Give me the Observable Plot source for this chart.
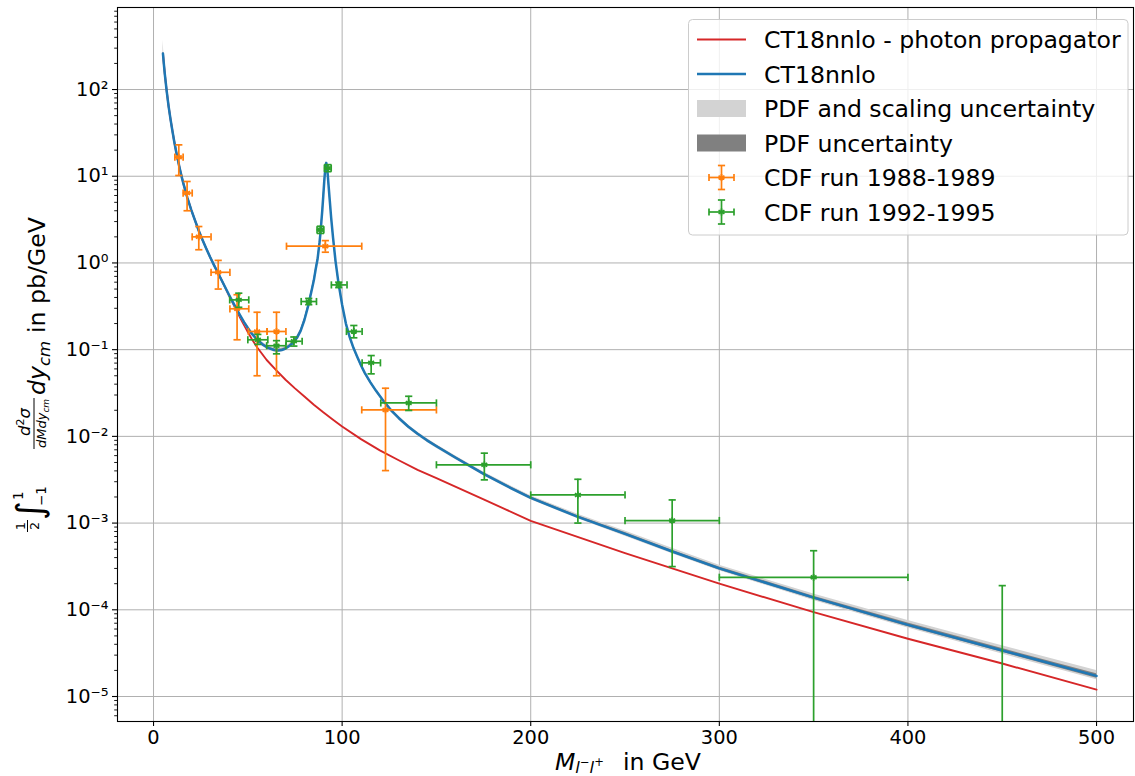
<!DOCTYPE html>
<html><head><meta charset="utf-8">
<script src="https://cdn.jsdelivr.net/npm/d3@7"></script>
<script src="https://cdn.jsdelivr.net/npm/@observablehq/plot@0.6"></script>
<style>html,body{margin:0;padding:0;background:#fff}svg{display:block}</style>
</head><body><div id="chart"></div>
<script>
// ---------- data ----------
// CT18nnlo (full Drell-Yan) curve
const mGrid = [5, 5.5, 6, 7, 8, 9, 10, 11, 12, 13,
  14, 15, 16, 18, 20, 22, 24, 26, 28, 30,
  32, 34, 36, 38, 40, 42, 44, 46, 48, 50,
  52, 55, 58, 61, 64, 66, 68, 70, 72, 74,
  76, 78, 80, 82, 84, 85, 86, 87, 88, 88.5,
  89, 89.5, 90, 90.5, 91, 91.3, 91.6, 91.9, 92.2, 92.5,
  92.8, 93.4, 94.2, 95.2, 96.5, 98, 100, 102, 104, 106,
  108, 110, 112, 115, 118, 122, 126, 130, 135, 140,
  145, 150, 160, 175, 190, 200, 225, 250, 275, 300,
  350, 400, 450, 500];
const ct18 = [260, 195, 150, 95, 64, 45.5, 33.5, 25, 19.2, 15.1,
  12.0, 9.7, 8.0, 5.6, 4.1, 3.1, 2.35, 1.84, 1.46, 1.17,
  0.95, 0.78, 0.64, 0.525, 0.43, 0.355, 0.295, 0.247, 0.208, 0.178,
  0.154, 0.13, 0.114, 0.104, 0.099, 0.098, 0.099, 0.103, 0.11, 0.12,
  0.136, 0.165, 0.22, 0.32, 0.5, 0.63, 0.85, 1.12, 1.7, 2.2,
  3.0, 4.1, 5.9, 8.6, 11.8, 13.5, 14.2, 13.3, 11.5, 9.6,
  7.9, 5.4, 3.3, 1.95, 1.05, 0.6, 0.33, 0.2, 0.14, 0.105,
  0.083, 0.066, 0.054, 0.042, 0.0335, 0.0255, 0.02, 0.0163, 0.013, 0.0107,
  0.009, 0.0077, 0.0057, 0.0037, 0.0025, 0.00195, 0.00118, 0.00075, 0.00047, 0.0003,
  0.000138, 0.000067, 0.000034, 0.0000173];
// relative half-widths of the "PDF and scaling" band (up / down) and of the PDF band
const scaleUp = [0.42, 0.33, 0.26, 0.19, 0.15, 0.12, 0.10, 0.09, 0.08, 0.08,
  0.07, 0.07, 0.07, 0.07, 0.07, 0.07, 0.07, 0.07, 0.07, 0.07,
  0.06, 0.06, 0.06, 0.06, 0.06, 0.06, 0.06, 0.06, 0.06, 0.06,
  0.06, 0.06, 0.06, 0.06, 0.06, 0.06, 0.06, 0.06, 0.06, 0.06,
  0.05, 0.05, 0.05, 0.05, 0.05, 0.05, 0.05, 0.05, 0.05, 0.05,
  0.05, 0.05, 0.05, 0.05, 0.05, 0.05, 0.05, 0.05, 0.05, 0.05,
  0.05, 0.05, 0.05, 0.05, 0.05, 0.05, 0.05, 0.05, 0.05, 0.05,
  0.05, 0.05, 0.05, 0.05, 0.05, 0.05, 0.05, 0.05, 0.05, 0.05,
  0.05, 0.05, 0.05, 0.05, 0.06, 0.06, 0.07, 0.08, 0.09, 0.09,
  0.10, 0.12, 0.13, 0.15];
const scaleDown = [0.12, 0.10, 0.09, 0.08, 0.07, 0.06, 0.06, 0.05, 0.05, 0.05,
  0.05, 0.05, 0.05, 0.05, 0.05, 0.05, 0.05, 0.05, 0.05, 0.05,
  0.05, 0.05, 0.05, 0.05, 0.05, 0.05, 0.05, 0.05, 0.05, 0.05,
  0.05, 0.05, 0.05, 0.05, 0.05, 0.05, 0.05, 0.05, 0.05, 0.05,
  0.05, 0.05, 0.05, 0.05, 0.05, 0.05, 0.05, 0.05, 0.05, 0.05,
  0.05, 0.05, 0.05, 0.05, 0.05, 0.05, 0.05, 0.05, 0.05, 0.05,
  0.05, 0.05, 0.05, 0.05, 0.05, 0.05, 0.05, 0.05, 0.05, 0.05,
  0.05, 0.05, 0.05, 0.05, 0.05, 0.05, 0.05, 0.05, 0.05, 0.05,
  0.05, 0.05, 0.05, 0.05, 0.05, 0.05, 0.05, 0.06, 0.06, 0.06,
  0.07, 0.08, 0.09, 0.10];
const pdfUnc = [0.05, 0.05, 0.05, 0.04, 0.04, 0.03, 0.03, 0.03, 0.03, 0.03,
  0.03, 0.03, 0.03, 0.03, 0.03, 0.03, 0.03, 0.03, 0.03, 0.03,
  0.03, 0.03, 0.03, 0.03, 0.03, 0.03, 0.03, 0.03, 0.03, 0.03,
  0.03, 0.03, 0.03, 0.03, 0.03, 0.03, 0.03, 0.03, 0.03, 0.03,
  0.03, 0.03, 0.03, 0.03, 0.03, 0.03, 0.03, 0.03, 0.03, 0.03,
  0.03, 0.03, 0.03, 0.03, 0.03, 0.03, 0.03, 0.03, 0.03, 0.03,
  0.03, 0.03, 0.03, 0.03, 0.03, 0.03, 0.03, 0.03, 0.03, 0.03,
  0.03, 0.03, 0.03, 0.03, 0.03, 0.03, 0.03, 0.03, 0.03, 0.03,
  0.03, 0.03, 0.03, 0.03, 0.03, 0.03, 0.03, 0.035, 0.035, 0.04,
  0.04, 0.05, 0.05, 0.06];

// CT18nnlo photon-propagator-only curve
const photonM = [5, 5.5, 6, 7, 8, 9, 10, 11, 12, 13,
  14, 15, 16, 18, 20, 22, 24, 26, 28, 30,
  32, 34, 36, 38, 40, 42, 44, 46, 48, 50,
  52, 55, 60, 65, 70, 75, 80, 85, 90, 95,
  100, 110, 120, 130, 140, 150, 175, 200, 250, 300,
  350, 400, 450, 500];
const photonY = [260, 195, 150, 95, 64, 45.5, 33.5, 25, 19.2, 15.1,
  12.0, 9.7, 8.0, 5.6, 4.1, 3.1, 2.35, 1.84, 1.46, 1.17,
  0.95, 0.78, 0.64, 0.52, 0.42, 0.345, 0.282, 0.232, 0.192, 0.16,
  0.134, 0.106, 0.076, 0.058, 0.045, 0.0358, 0.0288, 0.0232, 0.019, 0.0157,
  0.013, 0.0093, 0.0069, 0.0053, 0.0041, 0.0033, 0.00188, 0.00106, 0.00045, 0.0002,
  0.000094, 0.0000464, 0.000024, 0.000012];

// CDF run 1988-1989
const cdf1M   = [13.4, 17.8, 24.0, 34.3, 44.3, 54.9, 65.2, 91.1, 123.0];
const cdf1Xlo = [11.3, 15.7, 20.5, 30.5, 40.5, 50.3, 60.2, 70.5, 110.4];
const cdf1Xhi = [15.7, 20.5, 30.5, 40.5, 50.5, 60.2, 70.2, 110.4, 150];
const cdf1Y   = [16.6, 6.4, 2.0, 0.78, 0.296, 0.162, 0.162, 1.56, 0.0202];
const cdf1Ylo = [10.2, 4.0, 1.42, 0.50, 0.13, 0.050, 0.050, 1.33, 0.00403];
const cdf1Yhi = [23, 8.7, 2.63, 1.07, 0.43, 0.27, 0.27, 1.81, 0.0359];

// CDF run 1992-1995
const cdf2M   = [45.2, 55.3, 65.2, 74.4, 82.3, 88.5, 92.4, 98.2, 106.2, 115.4, 135.3, 175.4, 225, 275, 350, 450];
const cdf2Xlo = [40.4, 50.0, 60.0, 70.3, 78.3, 86.7, 90.6, 94.3, 102.3, 110.6, 120.5, 150, 200, 250, 300, 400];
const cdf2Xhi = [50.5, 60.6, 70.2, 78.8, 86.4, 90.3, 94.2, 102.6, 110.6, 120.3, 150, 200, 250, 300, 400, 500];
const cdf2Y   = [0.375, 0.13, 0.111, 0.125, 0.359, 2.41, 12.4, 0.558, 0.162, 0.0705, 0.0243, 0.0047, 0.00211, 0.00107, 0.000237, 0.000001];
const cdf2Ylo = [0.308, 0.115, 0.0895, 0.11, 0.33, 2.19, 11.3, 0.52, 0.137, 0.0526, 0.0199, 0.00315, 0.001, 0.000315, 1e-7, 1e-7];
const cdf2Yhi = [0.448, 0.15, 0.127, 0.14, 0.39, 2.65, 13.6, 0.60, 0.19, 0.0855, 0.029, 0.0064, 0.0032, 0.00185, 0.00048, 0.00019];

// ticks
const xTicks = [0, 100, 200, 300, 400, 500];
const xTickLabels = ["0", "100", "200", "300", "400", "500"];
const yTicks = [1e-5, 1e-4, 1e-3, 1e-2, 1e-1, 1, 10, 100];
const yTickLabels = ["10\u207B\u2075", "10\u207B\u2074", "10\u207B\u00B3", "10\u207B\u00B2", "10\u207B\u00B9", "10\u2070", "10\u00B9", "10\u00B2"];
const legendLabels = ["CT18nnlo - photon propagator", "CT18nnlo", "PDF and scaling uncertainty", "PDF uncertainty", "CDF run 1988-1989", "CDF run 1992-1995"];

// colours
const RED = "#d62728", BLUE = "#1f77b4", ORANGE = "#ff7f0e", GREEN = "#2ca02c";
const LIGHT = "#d3d3d3", DARK = "#808080", GRID = "#b0b0b0";

// ---------- tables for the library ----------
const curve = mGrid.map((m, i) => ({
  m, y: ct18[i],
  lo: ct18[i] * (1 - scaleDown[i]), hi: ct18[i] * (1 + scaleUp[i]),
  plo: ct18[i] * (1 - pdfUnc[i]), phi: ct18[i] * (1 + pdfUnc[i])
}));
const photon = photonM.map((m, i) => ({m, y: photonY[i]}));
const set1 = cdf1M.map((m, i) => ({m, y: cdf1Y[i], xlo: cdf1Xlo[i], xhi: cdf1Xhi[i], ylo: cdf1Ylo[i], yhi: cdf1Yhi[i]}));
const set2 = cdf2M.map((m, i) => ({m, y: cdf2Y[i], xlo: cdf2Xlo[i], xhi: cdf2Xhi[i], ylo: cdf2Ylo[i], yhi: cdf2Yhi[i]}));

const minorY = [];
for (let e = -6; e <= 2; e++) for (let k = 2; k <= 9; k++) {
  const v = k * Math.pow(10, e);
  if (v > 5.15e-6 && v < 883) minorY.push(v);
}

const capV = {draw(ctx, size) { const r = Math.sqrt(size / Math.PI); ctx.moveTo(0, -r); ctx.lineTo(0, r); }};
const capH = {draw(ctx, size) { const r = Math.sqrt(size / Math.PI); ctx.moveTo(-r, 0); ctx.lineTo(r, 0); }};

function errorMarks(rows, color) {
  const o = {stroke: color, strokeWidth: 1.7, clip: true};
  const c = {fill: "none", stroke: color, strokeWidth: 1.7, r: 3.6, clip: true};
  return [
    Plot.ruleY(rows, {y: "y", x1: "xlo", x2: "xhi", ...o}),
    Plot.ruleX(rows, {x: "m", y1: "ylo", y2: "yhi", ...o}),
    Plot.dot(rows, {x: "xlo", y: "y", symbol: capV, ...c}),
    Plot.dot(rows, {x: "xhi", y: "y", symbol: capV, ...c}),
    Plot.dot(rows, {x: "m", y: "ylo", symbol: capH, ...c}),
    Plot.dot(rows, {x: "m", y: "yhi", symbol: capH, ...c}),
    Plot.dot(rows, {x: "m", y: "y", symbol: "asterisk", r: 3.2, stroke: color, strokeWidth: 1.8, clip: true})
  ];
}

const chart = Plot.plot({
  width: 1135, height: 776,
  marginLeft: 117, marginRight: 2, marginTop: 7, marginBottom: 55,
  style: {fontFamily: "'DejaVu Sans'", fontSize: "19.4px", background: "white", color: "black", overflow: "visible"},
  x: {domain: [-19.1, 519.6]},
  y: {type: "log", domain: [5.15e-6, 883]},
  marks: [
    Plot.gridX(xTicks, {stroke: GRID, strokeOpacity: 1, strokeWidth: 1}),
    Plot.gridY(yTicks, {stroke: GRID, strokeOpacity: 1, strokeWidth: 1}),
    Plot.line(photon, {x: "m", y: "y", stroke: RED, strokeWidth: 1.9, clip: true}),
    Plot.areaY(curve, {x: "m", y1: "lo", y2: "hi", fill: LIGHT, clip: true}),
    Plot.areaY(curve, {x: "m", y1: "plo", y2: "phi", fill: DARK, clip: true}),
    Plot.line(curve, {x: "m", y: "y", stroke: BLUE, strokeWidth: 2.5, clip: true}),
    ...errorMarks(set1, ORANGE),
    ...errorMarks(set2, GREEN),
    Plot.frame({stroke: "black", strokeWidth: 1.1}),
    Plot.axisX(xTicks, {tickSize: 5, tickPadding: 4, strokeWidth: 1.1, label: null,
      tickFormat: d => xTickLabels[xTicks.indexOf(d)]}),
    Plot.axisY(yTicks, {tickSize: 5, tickPadding: 4, strokeWidth: 1.1, label: null,
      tickFormat: d => yTickLabels[yTicks.indexOf(d)]}),
    Plot.axisY(minorY, {tickSize: 2.8, strokeWidth: 0.9, label: null, tickFormat: () => ""})
  ]
});
document.getElementById("chart").appendChild(chart);

// ---------- labels and legend ----------
const svg = d3.select(chart);
const FONT = "'DejaVu Sans'";

// x label
const xl = svg.append("text").attr("x", 555).attr("y", 770).attr("text-anchor", "start")
  .attr("font-family", FONT).attr("font-size", 23.6).attr("fill", "black");
xl.append("tspan").attr("font-style", "italic").text("M");
xl.append("tspan").attr("font-style", "italic").attr("font-size", 16.5).attr("dy", 3).text("l");
xl.append("tspan").attr("font-size", 11.5).attr("dy", -7).text("\u2212");
xl.append("tspan").attr("font-style", "italic").attr("font-size", 16.5).attr("dy", 7).text("l");
xl.append("tspan").attr("font-size", 11.5).attr("dy", -7).text("+");
xl.append("tspan").attr("dy", 4).attr("x", 623).text("in GeV");

// y label (rotated)
const yl = svg.append("g").attr("transform", "translate(45,537) rotate(-90)")
  .attr("font-family", FONT).attr("fill", "black").attr("text-anchor", "start");
yl.append("text").attr("x", 11).attr("y", -20).attr("font-size", 12.5).attr("text-anchor", "middle").text("1");
yl.append("line").attr("x1", 5).attr("x2", 17).attr("y1", -17.5).attr("y2", -17.5).attr("stroke", "black").attr("stroke-width", 1);
yl.append("text").attr("x", 11).attr("y", -6.5).attr("font-size", 12.5).attr("text-anchor", "middle").text("2");
yl.append("text").attr("x", 17).attr("y", -3).attr("font-size", 36).text("\u222B");
yl.append("text").attr("x", 37).attr("y", -22).attr("font-size", 13.5).text("1");
yl.append("text").attr("x", 31).attr("y", 1).attr("font-size", 13.5).text("\u22121");
const num = yl.append("text").attr("x", 101).attr("y", -15).attr("font-size", 16.5).attr("font-style", "italic");
num.append("tspan").text("d");
num.append("tspan").attr("font-size", 11).attr("font-style", "normal").attr("dy", -6).text("2");
num.append("tspan").attr("dy", 6).text("\u03C3");
yl.append("line").attr("x1", 88).attr("x2", 139).attr("y1", -11).attr("y2", -11).attr("stroke", "black").attr("stroke-width", 1);
const den = yl.append("text").attr("x", 89).attr("y", 1).attr("font-size", 13).attr("font-style", "italic");
den.append("tspan").text("dMdy");
den.append("tspan").attr("font-size", 9).attr("dy", 3).text("cm");
const dy = yl.append("text").attr("x", 142).attr("y", 0).attr("font-size", 23.6).attr("font-style", "italic");
dy.append("tspan").text("dy");
dy.append("tspan").attr("font-size", 16.5).attr("dy", 5).text("cm");
yl.append("text").attr("x", 204).attr("y", 0).attr("font-size", 23.6).text("in pb/GeV");

// legend
const lg = svg.append("g").attr("font-family", FONT).attr("text-anchor", "start");
lg.append("rect").attr("x", 688.5).attr("y", 19.5).attr("width", 439.5).attr("height", 215.5)
  .attr("rx", 4).attr("fill", "white").attr("fill-opacity", 0.8).attr("stroke", "#cccccc").attr("stroke-width", 1);
const rowY = [39.5, 74, 108.5, 143, 177.5, 212];
legendLabels.forEach((t, i) => {
  lg.append("text").attr("x", 764).attr("y", rowY[i] + 8.8).attr("font-size", 23.6).attr("fill", "black").text(t);
});
lg.append("line").attr("x1", 697).attr("x2", 746).attr("y1", rowY[0]).attr("y2", rowY[0]).attr("stroke", RED).attr("stroke-width", 1.9);
lg.append("line").attr("x1", 697).attr("x2", 746).attr("y1", rowY[1]).attr("y2", rowY[1]).attr("stroke", BLUE).attr("stroke-width", 2.5);
lg.append("rect").attr("x", 697).attr("y", rowY[2] - 8.5).attr("width", 49).attr("height", 17).attr("fill", LIGHT);
lg.append("rect").attr("x", 697).attr("y", rowY[3] - 8.5).attr("width", 49).attr("height", 17).attr("fill", DARK);
[[rowY[4], ORANGE], [rowY[5], GREEN]].forEach(([cy, col]) => {
  const g = lg.append("g").attr("stroke", col).attr("stroke-width", 1.7).attr("fill", "none");
  g.append("line").attr("x1", 709).attr("x2", 734).attr("y1", cy).attr("y2", cy);
  g.append("line").attr("x1", 721.5).attr("x2", 721.5).attr("y1", cy - 12).attr("y2", cy + 12);
  g.append("line").attr("x1", 709).attr("x2", 709).attr("y1", cy - 3.6).attr("y2", cy + 3.6);
  g.append("line").attr("x1", 734).attr("x2", 734).attr("y1", cy - 3.6).attr("y2", cy + 3.6);
  g.append("line").attr("x1", 717.9).attr("x2", 725.1).attr("y1", cy - 12).attr("y2", cy - 12);
  g.append("line").attr("x1", 717.9).attr("x2", 725.1).attr("y1", cy + 12).attr("y2", cy + 12);
  g.append("path").attr("transform", `translate(721.5,${cy})`).attr("stroke-width", 1.8)
    .attr("d", d3.symbol(d3.symbolAsterisk, Math.PI * 3.2 * 3.2)());
});
</script>
</body></html>
